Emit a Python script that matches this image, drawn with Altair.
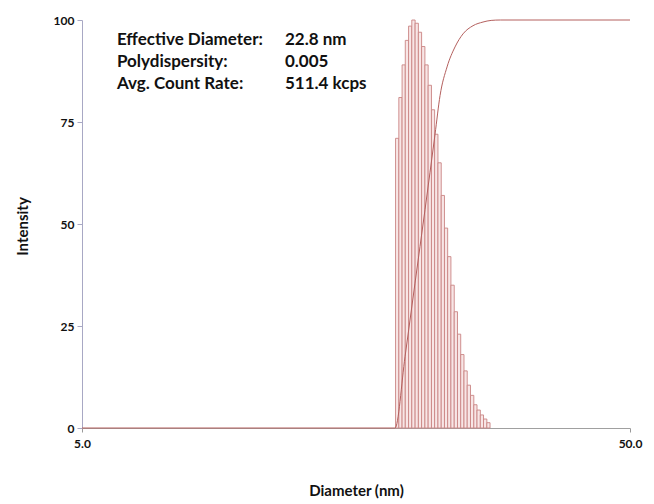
import altair as alt
import pandas as pd

# histogram bins (diameter, nm) – lower and upper edges, log spaced
bin_lo = [18.67, 18.93, 19.19, 19.45, 19.72, 19.99, 20.27, 20.55, 20.83, 21.12,
          21.41, 21.71, 22.00, 22.31, 22.62, 22.93, 23.24, 23.56, 23.89, 24.22,
          24.55, 24.89, 25.23, 25.58, 25.94, 26.29, 26.66, 27.02, 27.40]
bin_hi = [18.93, 19.19, 19.45, 19.72, 19.99, 20.27, 20.55, 20.83, 21.12, 21.41,
          21.71, 22.00, 22.31, 22.62, 22.93, 23.24, 23.56, 23.89, 24.22, 24.55,
          24.89, 25.23, 25.58, 25.94, 26.29, 26.66, 27.02, 27.40, 27.77]
intensity = [71, 81, 89, 95, 98.5, 100, 99.2, 97, 93.5, 89,
             84, 78, 72, 65, 57, 49, 42, 35, 28.5, 23,
             18, 14, 10.5, 8, 5.7, 4.4, 3.2, 2.2, 1.3]

# cumulative curve
cum_d = [5.0, 18.63, 19.43, 20.26, 21.13, 22.04, 22.51, 23.18, 23.97, 24.79, 25.85, 26.96, 27.9, 29.0, 50.0]
cum_v = [0, 0, 17.5, 35.5, 53.5, 72, 81.5, 88.5, 93.4, 96.6, 98.6, 99.5, 99.9, 100, 100]

# annotation
ann_labels = ["Effective Diameter:", "Polydispersity:", "Avg. Count Rate:"]
ann_values = ["22.8 nm", "0.005", "511.4 kcps"]
ann_y = [95.1, 89.7, 84.3]
ann_x_label = 5.79
ann_x_value = 11.73

FONT = "Lato"

bars_df = pd.DataFrame({"lo": bin_lo, "hi": bin_hi, "v": intensity})
cum_df = pd.DataFrame({"d": cum_d, "v": cum_v})
ann_df = pd.DataFrame({"lab": ann_labels, "val": ann_values, "y": ann_y,
                       "xl": [ann_x_label] * 3, "xv": [ann_x_value] * 3})

xscale = alt.Scale(type="log", domain=[5, 50], nice=False)
yscale = alt.Scale(domain=[0, 100], nice=False)

xaxis = alt.Axis(values=[5, 50], format=".1f", title="Diameter (nm)", grid=False,
                 labelFont=FONT, labelFontWeight="bold", labelFontSize=12, labelColor="#111",
                 titleFont=FONT, titleFontWeight="bold", titleFontSize=15, titleColor="#111",
                 titlePadding=34, tickSize=4, tickColor="#999", domainColor="#a0a0a0",
                 labelPadding=6, labelFlush=False)
yaxis = alt.Axis(values=[0, 25, 50, 75, 100], title="Intensity", grid=False,
                 labelFont=FONT, labelFontWeight="bold", labelFontSize=12, labelColor="#111",
                 titleFont=FONT, titleFontWeight="bold", titleFontSize=15, titleColor="#111",
                 titleX=-60, titleY=206, titleAngle=-90, titleAlign="center", titleBaseline="middle",
                 tickSize=5, tickColor="#a8a8c4", domainColor="#a8a8c4", labelPadding=3)

bars = alt.Chart(bars_df).mark_rect(fill="#f8e6e6", stroke="#c98583", strokeWidth=0.9).encode(
    x=alt.X("lo:Q", scale=xscale, axis=xaxis),
    x2="hi:Q",
    y=alt.Y("v:Q", scale=yscale, axis=yaxis),
    y2=alt.datum(0),
)

line = alt.Chart(cum_df).mark_line(color="#b4605e", strokeWidth=1.0, interpolate="monotone").encode(
    x=alt.X("d:Q", scale=xscale),
    y=alt.Y("v:Q", scale=yscale),
)

t1 = alt.Chart(ann_df).mark_text(align="left", baseline="middle", font=FONT, fontWeight="bold",
                                 fontSize=17, color="#111").encode(
    x=alt.X("xl:Q", scale=xscale), y=alt.Y("y:Q", scale=yscale), text="lab:N")
t2 = alt.Chart(ann_df).mark_text(align="left", baseline="middle", font=FONT, fontWeight="bold",
                                 fontSize=17, color="#111").encode(
    x=alt.X("xv:Q", scale=xscale), y=alt.Y("y:Q", scale=yscale), text="val:N")

chart = (bars + line + t1 + t2).properties(
    width=548, height=408,
    autosize=alt.AutoSizeParams(type="none"),
    padding={"left": 82, "top": 20, "right": 24, "bottom": 76},
    background="white",
).configure_view(stroke=None)

chart.save("out.html", embed_options={"renderer": "svg", "actions": False})
